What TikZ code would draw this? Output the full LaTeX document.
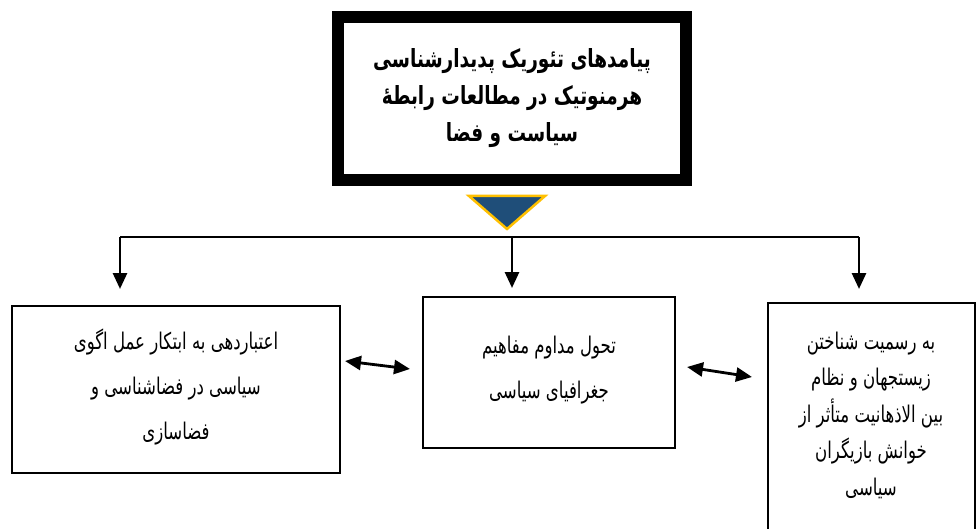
\documentclass[tikz,border=0pt]{standalone}
\usepackage{fontspec}
\usetikzlibrary{arrows.meta}
\TeXXeTstate=1
\newfontfamily\arabicfont[Script=Arabic,FakeStretch=0.72]{DejaVu Sans}
\newfontfamily\arabicbold[Script=Arabic,FakeStretch=0.74]{DejaVu Sans Bold}
\newcommand{\rl}[1]{\beginR #1\endR}
\definecolor{triblue}{HTML}{1F4E79}
\definecolor{triedge}{HTML}{FFC000}
\tikzset{
  box/.style={draw=black, line width=2.6pt, rectangle, inner sep=0pt},
  bodytext/.style={font=\arabicfont\fontsize{23}{45}\selectfont, align=center, inner sep=0pt},
  wire/.style={line width=2.8pt},
  drop/.style={line width=2.8pt, -{Triangle[length=16pt,width=14pt]}},
  twoway/.style={line width=2.8pt, {Triangle[length=16pt,width=14pt]}-{Triangle[length=16pt,width=14pt]}}
}
\begin{document}
\begin{tikzpicture}[x=1pt,y=-1pt]
\clip (0,0) rectangle (976,529);
\fill[white] (0,0) rectangle (976,529);
% top box
\node[draw=black, line width=12pt, minimum width=348pt, minimum height=163pt, inner sep=0pt,
      font=\arabicbold\fontsize{25}{37}\selectfont, align=center] (top) at (512,98.5)
  {\rl{پیامدهای تئوریک پدیدارشناسی}\\\rl{هرمنوتیک در مطالعات رابطهٔ}\\\rl{سیاست و فضا}};
% triangle
\coordinate (tl) at (469,196);
\coordinate (tr) at (545,196);
\coordinate (tb) at (507,229);
\draw[fill=triblue, draw=triedge, line width=2.5pt, line join=miter] (tl) -- (tr) -- (tb) -- cycle;
% boxes
\node[box, minimum width=328pt, minimum height=167pt] (left) at (176,389.5) {};
\node[bodytext] (lefttext) at (176,387)
  {\rl{اعتباردهی به ابتکار عمل اگوی}\\\rl{سیاسی در فضاشناسی و}\\\rl{فضاسازی}};
\node[box, minimum width=252pt, minimum height=151pt] (mid) at (549,372.5) {};
\node[bodytext] (midtext) at (549,370.5)
  {\rl{تحول مداوم مفاهیم}\\\rl{جغرافیای سیاسی}};
\node[box, minimum width=207pt, minimum height=260pt] (right) at (871.5,433) {};
\node[bodytext, font=\arabicfont\fontsize{23}{36.5}\selectfont] (righttext) at (871,415)
  {\rl{به رسمیت شناختن}\\\rl{زیستجهان و نظام}\\\rl{بین الاذهانیت متأثر از}\\\rl{خوانش بازیگران}\\\rl{سیاسی}};
% bus
\coordinate (bl) at (120,237);
\coordinate (bm) at (512,237);
\coordinate (br) at (859,237);
\coordinate (el) at (120,289);
\coordinate (em) at (512,288);
\coordinate (er) at (859,289);
\draw[wire] (bl) -- (br);
\draw[drop] (bl) -- (el);
\draw[drop] (bm) -- (em);
\draw[drop] (br) -- (er);
% two-way arrows
\coordinate (a1) at (345,361);
\coordinate (a2) at (410,369);
\coordinate (a3) at (687,367);
\coordinate (a4) at (752,377);
\draw[twoway] (a1) -- (a2);
\draw[twoway] (a3) -- (a4);
\end{tikzpicture}
\end{document}
